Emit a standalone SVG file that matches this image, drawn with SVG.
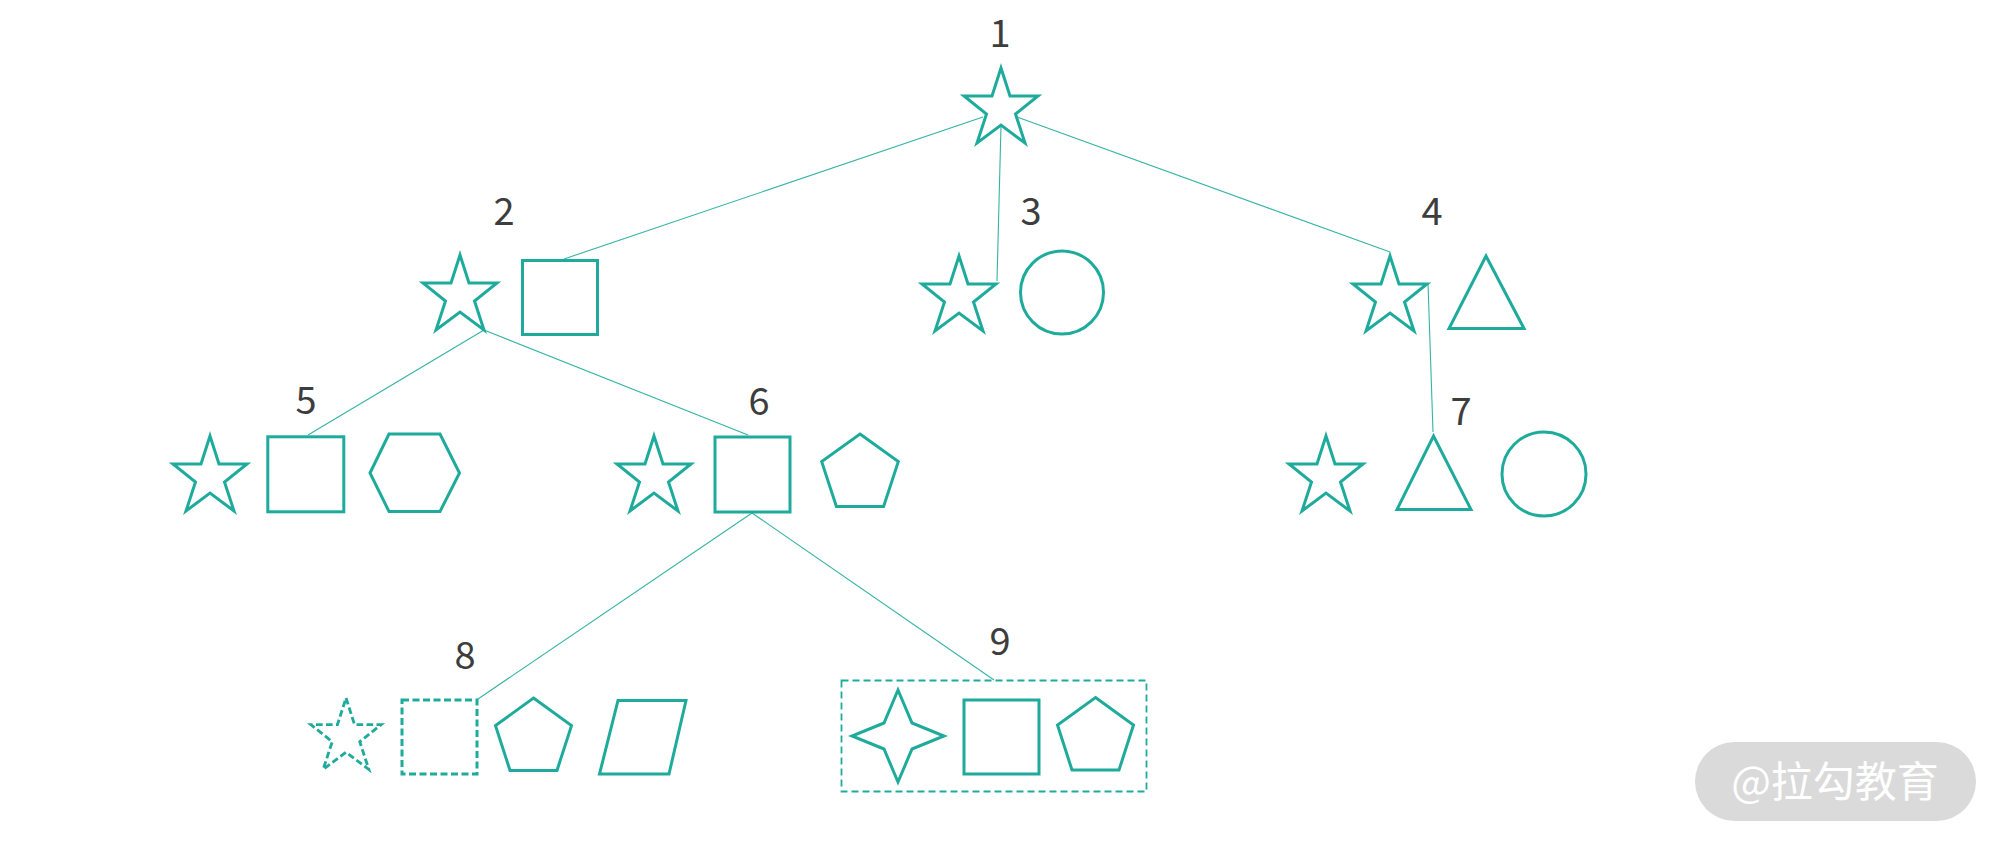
<svg xmlns="http://www.w3.org/2000/svg" width="2002" height="848" viewBox="0 0 2002 848">
<style>
.s{fill:none;stroke:#1fab9b;stroke-width:3;stroke-linejoin:miter}
.d{stroke-dasharray:7 3.5}
.c{fill:none;stroke:#1fab9b;stroke-width:1.1;opacity:0.9}
.t{font-family:"Noto Sans CJK SC","Noto Sans",sans-serif;font-size:38px;fill:#3d3d3d;text-anchor:middle}
.w{font-family:"Noto Sans CJK SC","Noto Sans CJK JP",sans-serif;font-size:42px;fill:#ffffff;text-anchor:middle}
</style>
<defs>
<path id="star" d="M0,-41 L9,-13 L37,-13 L14.5,5 L24,34 L0,16 L-24,34 L-14.5,5 L-37,-13 L-9,-13 Z"/>
</defs>
<rect width="2002" height="848" fill="#ffffff"/>
<g id="connectors">
<line class="c" x1="983" y1="117" x2="564" y2="259"/>
<line class="c" x1="1001" y1="125" x2="997" y2="281"/>
<line class="c" x1="1017" y1="117" x2="1390" y2="252"/>
<line class="c" x1="1428" y1="283" x2="1433" y2="432"/>
<line class="c" x1="484" y1="330" x2="308" y2="435"/>
<line class="c" x1="484" y1="330" x2="748" y2="435"/>
<line class="c" x1="752" y1="513" x2="478" y2="699"/>
<line class="c" x1="752" y1="513" x2="994" y2="680"/>
</g>
<g id="node1">
<use href="#star" class="s" transform="translate(1001,109)"/>
<text class="t" x="1000" y="46.5">1</text>
</g>
<g id="node2">
<use href="#star" class="s" transform="translate(460,296)"/>
<rect class="s" x="522.5" y="260.5" width="75" height="74"/>
<text class="t" x="504" y="225">2</text>
</g>
<g id="node3">
<use href="#star" class="s" transform="translate(959,297)"/>
<circle class="s" cx="1062" cy="292.5" r="41.5"/>
<text class="t" x="1031" y="225">3</text>
</g>
<g id="node4">
<use href="#star" class="s" transform="translate(1390,297)"/>
<polygon class="s" points="1486,256 1524,328.5 1449,328.5"/>
<text class="t" x="1432" y="225">4</text>
</g>
<g id="node5">
<use href="#star" class="s" transform="translate(210,477)"/>
<rect class="s" x="267.8" y="436.8" width="76" height="75"/>
<polygon class="s" points="370,473 389,434 440,434 459.5,473 440,511.5 389,511.5"/>
<text class="t" x="306" y="414">5</text>
</g>
<g id="node6">
<use href="#star" class="s" transform="translate(654,477)"/>
<rect class="s" x="715" y="437" width="75" height="75"/>
<polygon class="s" points="860,434 898.3,461.6 883.6,506.5 836.4,506.5 821.7,461.6"/>
<text class="t" x="759" y="415">6</text>
</g>
<g id="node7">
<use href="#star" class="s" transform="translate(1326,477)"/>
<polygon class="s" points="1433.5,436 1471,509.5 1397,509.5"/>
<circle class="s" cx="1544" cy="474" r="42"/>
<text class="t" x="1461" y="425">7</text>
</g>
<g id="node8">
<use href="#star" class="s d" transform="translate(346,737) scale(0.95)"/>
<rect class="s d" x="402" y="700" width="75" height="74"/>
<polygon class="s" points="533.5,698 571.5,725.6 557,770.4 510,770.4 495.5,725.6"/>
<polygon class="s" points="618,700.5 686,700.5 669,774 599.5,774"/>
<text class="t" x="465" y="669">8</text>
</g>
<g id="node9">
<rect x="841.5" y="680.5" width="305" height="111" fill="none" stroke="#1fab9b" stroke-width="1.8" stroke-dasharray="7 4"/>
<polygon class="s" points="898,690 912,723 944,736 912,749 898,782 884,749 852,736 884,723"/>
<rect class="s" x="964" y="700" width="75" height="74"/>
<polygon class="s" points="1095.5,697.5 1133.5,725 1119,770 1072,770 1057.5,725"/>
<text class="t" x="1000" y="655">9</text>
</g>
<g id="watermark">
<rect x="1695" y="742" width="281" height="79" rx="39.5" fill="#dadada"/>
<text class="w" x="1835" y="797">@拉勾教育</text>
</g>
</svg>
